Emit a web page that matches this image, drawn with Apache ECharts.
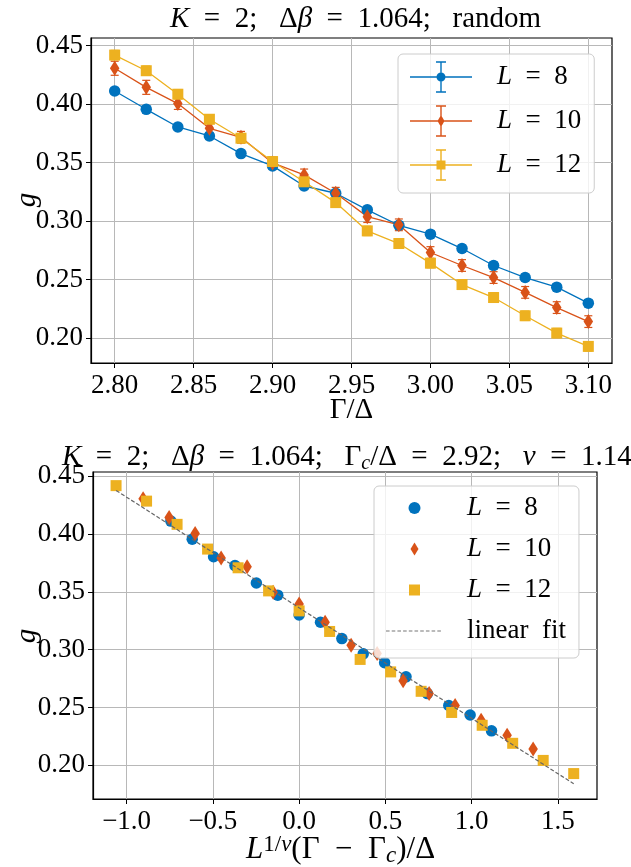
<!DOCTYPE html>
<html><head><meta charset="utf-8">
<script src="https://cdn.jsdelivr.net/npm/echarts@6/dist/echarts.min.js"></script>
<style>html,body{margin:0;padding:0;background:#fff}#c{width:631px;height:867px}</style>
</head><body><div id="c"></div>
<script>
// ---------- data ----------
const gammaOverDelta = [2.80,2.82,2.84,2.86,2.88,2.90,2.92,2.94,2.96,2.98,3.00,3.02,3.04,3.06,3.08,3.10];
const systemSizes = [8, 10, 12];
const gL8  = [0.4113,0.3956,0.3805,0.3728,0.3577,0.3472,0.3300,0.3238,0.3096,0.2964,0.2888,0.2765,0.2620,0.2517,0.2435,0.2298];
const gL10 = [0.4307,0.4144,0.4005,0.3794,0.3717,0.3497,0.3395,0.3238,0.3038,0.2968,0.2731,0.2620,0.2517,0.2390,0.2260,0.2140];
const gL12 = [0.4420,0.4286,0.4085,0.3871,0.3709,0.3509,0.3336,0.3158,0.2916,0.2808,0.2640,0.2457,0.2346,0.2190,0.2042,0.1928];
const errL8  = [0.003,0.003,0.003,0.003,0.003,0.003,0.003,0.003,0.003,0.003,0.003,0.003,0.003,0.003,0.003,0.003];
const errL10 = [0.006,0.006,0.005,0.005,0.005,0.005,0.005,0.005,0.005,0.005,0.005,0.005,0.005,0.005,0.005,0.005];
const errL12 = [0.004,0.004,0.004,0.004,0.004,0.004,0.004,0.004,0.004,0.004,0.004,0.004,0.004,0.004,0.004,0.004];
const gammaC = 2.92;
const nu = 1.14;
const fitIntercept = 0.3363;
const fitSlope = -0.0957;
const xTicksTop = [2.80,2.85,2.90,2.95,3.00,3.05,3.10];
const yTicks = [0.20,0.25,0.30,0.35,0.40,0.45];
const xTicksBottom = [-1.0,-0.5,0.0,0.5,1.0,1.5];

// ---------- style ----------
const FONT = 'Liberation Serif';
const colors = ['#0072BD','#D95319','#EDB120'];
const gValues = [gL8, gL10, gL12];
const gErrors = [errL8, errL10, errL12];
const names = systemSizes.map(L => 'L = ' + L);
const diamondSym = 'path://M0,-1L0.64,0L0,1L-0.64,0Z';
const symbols = ['circle', diamondSym, 'rect'];
const symSizes = [11.5, [9.5, 15], 11];

const TS = 29;
function mkRich(fs, ss) {
  return {
    i: {fontStyle:'italic', fontFamily:FONT, fontSize:fs, lineHeight:34, fill:'#000', color:'#000'},
    n: {fontFamily:FONT, fontSize:fs, lineHeight:34, fill:'#000', color:'#000'},
    sub: {fontStyle:'italic', fontFamily:FONT, fontSize:ss, lineHeight:ss, verticalAlign:'bottom', fill:'#000', color:'#000'},
    sup: {fontFamily:FONT, fontSize:ss, lineHeight:ss, verticalAlign:'top', fill:'#000', color:'#000'},
    supi: {fontStyle:'italic', fontFamily:FONT, fontSize:ss, lineHeight:ss, verticalAlign:'top', fill:'#000', color:'#000'}
  };
}

function axisCommon(extra) {
  return Object.assign({
    type: 'value',
    axisLine: {show: true, onZero: false, lineStyle: {color: '#000', width: 1.2}},
    axisTick: {show: true, inside: false, length: 5, lineStyle: {color: '#000', width: 1}},
    splitLine: {show: true, lineStyle: {color: '#b8b8b8', width: 1}},
    axisLabel: {fontFamily: FONT, fontSize: 27, color: '#000', showMinLabel: true, showMaxLabel: true, hideOverlap: false},
  }, extra);
}

function withTicks(ax, ticks, fmt, margin) {
  ax.axisTick.customValues = ticks;
  ax.axisLabel.customValues = ticks;
  ax.axisLabel.formatter = fmt;
  ax.axisLabel.margin = margin;
  return ax;
}

const fmt2 = v => Number(v).toFixed(2);
const fmt1 = v => { const s = Math.abs(v).toFixed(1); return (v < -1e-9 ? '\u2212' : '') + s; };

function errRender(params, api) {
  const x = api.value(0), y = api.value(1), e = api.value(2);
  const a = api.coord([x, y + e]), b = api.coord([x, y - e]);
  const c = api.visual('color');
  const hw = 4;
  const st = {stroke: c, lineWidth: 1.2, fill: null};
  return {type: 'group', children: [
    {type: 'line', shape: {x1: a[0], y1: a[1], x2: b[0], y2: b[1]}, style: st},
    {type: 'line', shape: {x1: a[0]-hw, y1: a[1], x2: a[0]+hw, y2: a[1]}, style: st},
    {type: 'line', shape: {x1: b[0]-hw, y1: b[1], x2: b[0]+hw, y2: b[1]}, style: st}
  ]};
}

const series = [];
// top: raw data with error bars
systemSizes.forEach((L, k) => {
  series.push({
    type: 'custom', name: 'err' + L, xAxisIndex: 0, yAxisIndex: 0,
    renderItem: errRender, silent: true,
    itemStyle: {color: colors[k]},
    encode: {x: 0, y: 1},
    data: gammaOverDelta.map((x, i) => [x, gValues[k][i], gErrors[k][i]])
  });
  series.push({
    type: 'line', name: names[k], xAxisIndex: 0, yAxisIndex: 0,
    symbol: symbols[k], symbolSize: symSizes[k], showSymbol: true,
    itemStyle: {color: colors[k], borderWidth: 0},
    lineStyle: {color: colors[k], width: 1.3},
    emphasis: {disabled: true},
    data: gammaOverDelta.map((x, i) => [x, gValues[k][i]])
  });
});
// bottom: scaling collapse
const scaledX = systemSizes.map(L => gammaOverDelta.map(x => Math.pow(L, 1 / nu) * (x - gammaC)));
systemSizes.forEach((L, k) => {
  series.push({
    type: 'scatter', name: names[k], xAxisIndex: 1, yAxisIndex: 1,
    symbol: symbols[k], symbolSize: symSizes[k],
    itemStyle: {color: colors[k], opacity: 1, borderWidth: 0},
    emphasis: {disabled: true},
    data: gammaOverDelta.map((x, i) => [scaledX[k][i], gValues[k][i]])
  });
});
const allX = [].concat(...scaledX);
const fitXs = [Math.min(...allX), Math.max(...allX)];
series.push({
  type: 'line', name: 'linear fit', xAxisIndex: 1, yAxisIndex: 1,
  symbol: 'none', showSymbol: false,
  lineStyle: {color: '#666666', width: 1.2, type: [4, 2]},
  itemStyle: {color: '#666666'},
  emphasis: {disabled: true},
  data: fitXs.map(x => [x, fitIntercept + fitSlope * x])
});

// legend icons (frames with fixed bounding box)
const topFrame = 'M0,0M62,32';
const topBase = 'M0,15.3H62V16.7H0Z M30.3,1H31.7V31H30.3Z M26,0.3H36V1.7H26Z M26,30.3H36V31.7H26Z ';
const topMarkers = [
  'M35.5,16A4.5,4.5 0 1 1 26.5,16A4.5,4.5 0 1 1 35.5,16Z',
  'M31,10L34.5,16L31,22L27.5,16Z',
  'M26.5,11.5H35.5V20.5H26.5Z'
];
const botFrame = 'M0,0M57,14';
const botMarkers = [
  'M34.5,7A6,6 0 1 1 22.5,7A6,6 0 1 1 34.5,7Z',
  'M28.5,0.5L32.5,7L28.5,13.5L24.5,7Z',
  'M23,1.5H34V12.5H23Z'
];
let dashPath = '';
for (let x = 0; x < 55; x += 5.7) dashPath += 'M' + x.toFixed(1) + ',6.4H' + Math.min(x + 3.6, 57).toFixed(1) + 'V7.6H' + x.toFixed(1) + 'Z ';

const legendText = {
  fontFamily: FONT, fontSize: 27, color: '#000', lineHeight: 32,
  rich: {i: {fontStyle: 'italic', fontFamily: FONT, fontSize: 27, lineHeight: 32, color: '#000'},
         n: {fontFamily: FONT, fontSize: 27, lineHeight: 32, color: '#000'}}
};
const legendFmt = name => {
  if (name.indexOf('L = ') === 0) return '{i|L}{n|\u2002=\u2002' + name.slice(4) + '}';
  return '{n|' + name.replace(' ', '\u2002') + '}';
};

function txt(x, y, text, extra, fs, ss) {
  fs = fs || TS; ss = ss || 20;
  return {type: 'text', x: x, y: y, z: 100, style: Object.assign({
    text: text, fontFamily: FONT, fontSize: fs, lineHeight: 34, fill: '#000',
    textAlign: 'left', align: 'left', textVerticalAlign: 'middle', verticalAlign: 'middle', rich: mkRich(fs, ss)
  }, extra || {})};
}

const gLabelTop = txt(27, 200, '{i|g}', {textAlign: 'center', align: 'center'});
gLabelTop.rotation = Math.PI / 2;
const gLabelBot = txt(27, 636, '{i|g}', {textAlign: 'center', align: 'center'});
gLabelBot.rotation = Math.PI / 2;

const option = {
  animation: false,
  backgroundColor: '#fff',
  title: {
    text: '{i|K}{n|  =  2;   \u0394}{i|\u03b2}{n|  =  1.064;   random}',
    left: 170, top: 2, padding: 0, itemGap: 0,
    textStyle: {fontFamily: FONT, fontSize: TS, fontWeight: 'normal', lineHeight: 34, color: '#000', rich: mkRich(TS, 20)}
  },
  grid: [
    {left: 91, top: 38, width: 521, height: 325, show: true, borderColor: '#000', borderWidth: 1.2, backgroundColor: 'transparent', containLabel: false, outerBoundsMode: 'none'},
    {left: 93, top: 472, width: 504, height: 327, show: true, borderColor: '#000', borderWidth: 1.2, backgroundColor: 'transparent', containLabel: false, outerBoundsMode: 'none'}
  ],
  xAxis: [
    withTicks(axisCommon({gridIndex: 0, min: 2.785, max: 3.115}), xTicksTop, fmt2, 9),
    withTicks(axisCommon({gridIndex: 1, min: -1.195, max: 1.727}), xTicksBottom, fmt1, 9)
  ],
  yAxis: [
    withTicks(axisCommon({gridIndex: 0, min: 0.1786, max: 0.4566}), yTicks, fmt2, 8),
    withTicks(axisCommon({gridIndex: 1, min: 0.1708, max: 0.4538}), yTicks, fmt2, 8)
  ],
  legend: [
    {
      orient: 'vertical', left: 398, top: 54, padding: [7, 13, 12, 12],
      itemWidth: 62, itemHeight: 32, itemGap: 12,
      backgroundColor: 'rgba(255,255,255,0.8)', borderColor: '#cccccc', borderWidth: 1, borderRadius: 5,
      selectedMode: false, textStyle: Object.assign({padding: [0, 0, 0, 20]}, legendText), formatter: legendFmt,
      data: names.map((n, k) => ({name: n, icon: 'path://' + topFrame + topBase + topMarkers[k], itemStyle: {color: colors[k], borderWidth: 0}}))
    },
    {
      orient: 'vertical', left: 374, top: 486, padding: [6, 13, 11, 12],
      itemWidth: 57, itemHeight: 14, itemGap: 9,
      backgroundColor: 'rgba(255,255,255,0.8)', borderColor: '#cccccc', borderWidth: 1, borderRadius: 5,
      selectedMode: false, textStyle: Object.assign({padding: [0, 0, 0, 19]}, legendText), formatter: legendFmt,
      data: names.map((n, k) => ({name: n, icon: 'path://' + botFrame + botMarkers[k], itemStyle: {color: colors[k], borderWidth: 0}}))
        .concat([{name: 'linear fit', icon: 'path://' + botFrame + dashPath, itemStyle: {color: '#777777', borderWidth: 0}}])
    }
  ],
  graphic: [
    txt(351.5, 410, '{n|\u0393/\u0394}', {textAlign: 'center', align: 'center'}),
    gLabelTop,
    txt(62, 457, '{i|K}{n|  =  2;   \u0394}{i|\u03b2}{n|  =  1.064;   \u0393}{sub|c}{n|/\u0394  =  2.92;   }{i|\u03bd}{n|  =  1.14}'),
    gLabelBot,
    txt(246, 850, '{i|L}{sup|1/}{supi|\u03bd}{n|(\u0393  \u2212  \u0393}{sub|c}{n|)/\u0394}', null, 31, 23)
  ],
  series: series
};

const chart = echarts.init(document.getElementById('c'), null, {renderer: 'canvas'});
chart.setOption(option);
</script>
</body></html>
